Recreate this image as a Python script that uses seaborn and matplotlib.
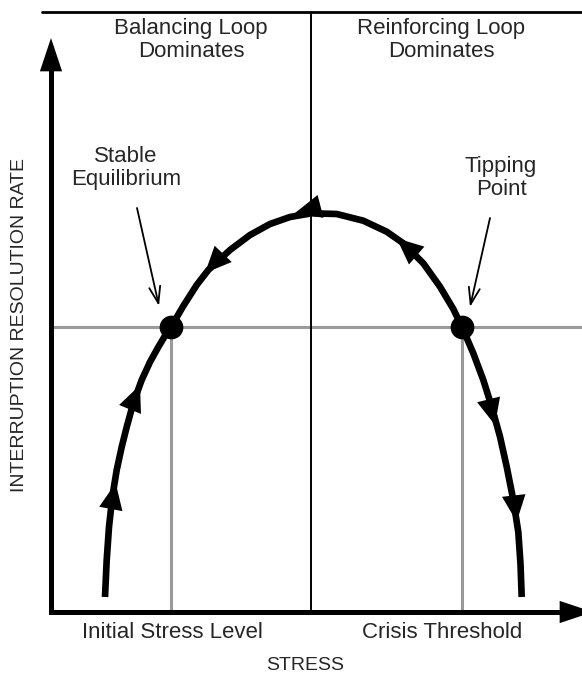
import numpy as np
import matplotlib
matplotlib.use("Agg")
import matplotlib.pyplot as plt
import seaborn as sns

# curve (arbitrary units: stress vs interruption resolution rate)
stress = [54, 55.7, 58, 61.3, 65.7, 70.7, 75.7, 82.3, 90.7, 99, 107.3, 115.7, 120,
          132.3, 145.7, 157.3, 179, 199, 219, 239, 260.7, 285.7, 312.3, 335.7,
          352.3, 372.3, 389, 402.3, 411, 422.3, 432.3, 440.7, 449, 455.7, 462.3,
          467.3, 469.5, 470.7]
rate = [15, 52, 85, 115, 142, 165, 185, 209, 232, 250, 265, 279, 285,
        306, 327, 342, 362, 377, 388, 395, 398.7, 398, 391.3, 380.3,
        368.7, 348.7, 325.3, 303, 285, 258.7, 232, 205.3, 175.3, 145.3, 112,
        80, 48, 15]

# equilibrium points
eq_stress = [120, 411]
eq_rate = [285, 285]
eq_names = ["Stable\nEquilibrium", "Tipping\nPoint"]
eq_label_pos = [(75, 444), (450, 434)]
eq_arrow_from = [(86, 404), (439, 394)]
eq_arrow_to = [(108, 306), (419, 305)]

# arrowheads on the curve: tip position and direction along the curve
flow_stress = [64.7, 89, 154, 244, 345.7, 444, 465.7]
flow_rate = [129, 227, 339, 399, 373.7, 187, 90.3]
flow_dir = [1, 1, -1, -1, -1, 1, 1]

region_names = ["Balancing Loop\nDominates", "Reinforcing Loop\nDominates"]
region_x = [140, 390]
tick_names = ["Initial Stress Level", "Crisis Threshold"]
tick_x = [121, 391]
mid_stress = 260
top_rate = 600

sns.set_style("white")
plt.rcParams['font.family'] = ['Liberation Sans', 'DejaVu Sans']

fig = plt.figure(figsize=(5.82, 6.77), dpi=100)
ax = fig.add_axes([0, 0, 1, 1])
ax.set_xlim(-51, 531)
ax.set_ylim(-65, 612)
ax.axis("off")

gray = "#9a9a9a"
# gray reference lines
ax.plot([0, 531], [eq_rate[0], eq_rate[0]], color=gray, lw=2.2, zorder=1)
for s, r in zip(eq_stress, eq_rate):
    ax.plot([s, s], [0, r], color=gray, lw=2.2, zorder=1)

# frame lines
ax.plot([mid_stress, mid_stress], [0, top_rate], color="black", lw=1.4, zorder=1)
ax.plot([-9, 531], [top_rate, top_rate], color="black", lw=2.0, zorder=1, clip_on=False)

# axes with arrows
ax.plot([0, 0, 520], [550, 0, 0], color="black", lw=3.6, solid_joinstyle="miter",
        solid_capstyle="butt", zorder=3, clip_on=False)
head = dict(arrowstyle="-|>,head_length=2.4,head_width=0.8", mutation_scale=10,
            fc="black", ec="black", lw=0, shrinkA=0, shrinkB=0)
ax.annotate("", xy=(0, 574), xytext=(0, 500), arrowprops=head, annotation_clip=False)
ax.annotate("", xy=(542, 0), xytext=(470, 0), arrowprops=head, annotation_clip=False)

# main curve
sns.lineplot(x=stress, y=rate, sort=False, color="black", lw=4.8, ax=ax, zorder=4,
             solid_joinstyle="round", solid_capstyle="butt")
sns.scatterplot(x=eq_stress, y=eq_rate, s=250, color="black", edgecolor="black",
                ax=ax, zorder=5)

# flow arrows along the curve
pts = np.column_stack([stress, rate])
for fx, fy, fd in zip(flow_stress, flow_rate, flow_dir):
    i = int(np.argmin((pts[:, 0] - fx) ** 2 + (pts[:, 1] - fy) ** 2))
    d = pts[min(i + 1, len(pts) - 1)] - pts[max(i - 1, 0)]
    d = d / np.hypot(*d) * fd
    ax.annotate("", xy=(fx, fy), xytext=(fx - d[0] * 25, fy - d[1] * 25),
                arrowprops=dict(arrowstyle="-|>,head_length=1.9,head_width=0.85",
                                mutation_scale=10, fc="black", ec="black", lw=0,
                                shrinkA=0, shrinkB=0), zorder=6)

# equilibrium labels and pointers
for name, pos, a0, a1 in zip(eq_names, eq_label_pos, eq_arrow_from, eq_arrow_to):
    ax.text(pos[0], pos[1], name, ha="center", va="center", fontsize=16, linespacing=1.1)
    ax.annotate("", xy=a1, xytext=a0,
                arrowprops=dict(arrowstyle="->,head_length=1.2,head_width=0.4",
                                mutation_scale=10, color="black", lw=1.3,
                                shrinkA=0, shrinkB=0))

for name, x in zip(region_names, region_x):
    ax.text(x, 572, name, ha="center", va="center", fontsize=16, linespacing=1.1)

for name, x in zip(tick_names, tick_x):
    ax.text(x, -21, name, ha="center", va="center", fontsize=16)

ax.text(254, -54, "STRESS", ha="center", va="center", fontsize=14)
ax.text(-31, 287, "INTERRUPTION RESOLUTION RATE", ha="center", va="center",
        fontsize=14, rotation=90)

fig.savefig("out.png", dpi=100)
